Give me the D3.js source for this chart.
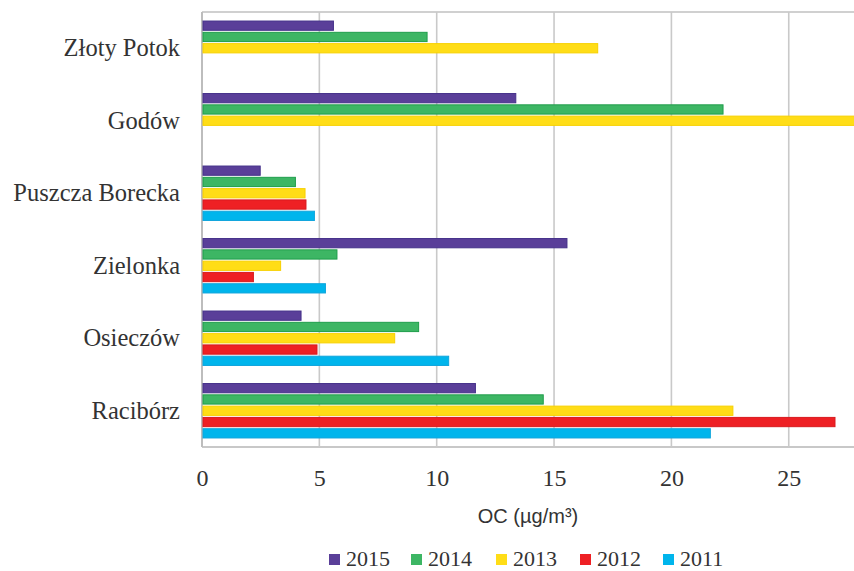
<!DOCTYPE html>
<html>
<head>
<meta charset="utf-8">
<script src="https://cdn.jsdelivr.net/npm/d3@7"></script>
<style>
  html, body { margin: 0; padding: 0; background: #fff; }
  svg { display: block; }
</style>
</head>
<body>
<svg id="chart" width="854" height="571"></svg>
<script>
// ---- data ----
const categories = ["Złoty Potok", "Godów", "Puszcza Borecka", "Zielonka", "Osieczów", "Racibórz"];
const seriesNames = ["2015", "2014", "2013", "2012", "2011"];
const values2015 = [5.6, 13.37, 2.48, 15.55, 4.22, 11.65];
const values2014 = [9.59, 22.2, 3.98, 5.75, 9.23, 14.54];
const values2013 = [16.86, 28.6, 4.39, 3.35, 8.21, 22.62];
const values2012 = [null, null, 4.43, 2.19, 4.9, 26.97];
const values2011 = [null, null, 4.79, 5.26, 10.51, 21.66];
const xTicks = [0, 5, 10, 15, 20, 25];
const seriesColors = ["#5a3f99", "#3db664", "#ffdd17", "#ee2024", "#00b5ec"];
const seriesStrokes = ["#45318a", "#1f9d4b", "#f7d000", "#d81a1e", "#10a5dc"];

const seriesValues = [values2015, values2014, values2013, values2012, values2011];

// ---- layout ----
const svg = d3.select("#chart");
const plotLeft = 202, plotRight = 854, plotTop = 12, plotBottom = 447;

const x = d3.scaleLinear().domain([0, 27.78]).range([plotLeft, plotRight]);
const y = d3.scaleBand().domain(categories).range([plotTop, plotBottom]).paddingInner(0).paddingOuter(0);
const yInner = d3.scaleBand().domain(seriesNames).range([0, y.bandwidth()]).paddingInner(0.18).paddingOuter(0.8);

// frame
svg.append("line").attr("x1", plotLeft).attr("x2", plotRight).attr("y1", plotTop).attr("y2", plotTop)
  .attr("stroke", "#d0d0d0").attr("stroke-width", 2);
svg.append("line").attr("x1", plotLeft).attr("x2", plotRight).attr("y1", plotBottom).attr("y2", plotBottom)
  .attr("stroke", "#c8c8c8").attr("stroke-width", 2);

// gridlines
svg.append("g").selectAll("line").data(xTicks.filter(d => d > 0)).join("line")
  .attr("x1", d => x(d)).attr("x2", d => x(d))
  .attr("y1", plotTop).attr("y2", plotBottom)
  .attr("stroke", "#c9c9c9").attr("stroke-width", 1.6);

// left axis line
svg.append("line").attr("x1", plotLeft).attr("x2", plotLeft).attr("y1", plotTop).attr("y2", plotBottom)
  .attr("stroke", "#bdbdbd").attr("stroke-width", 2);

// bars
svg.append("clipPath").attr("id", "clip").append("rect")
  .attr("x", plotLeft).attr("y", 0).attr("width", plotRight - plotLeft).attr("height", 571);

const barsG = svg.append("g").attr("clip-path", "url(#clip)");
seriesNames.forEach((s, si) => {
  const data = categories.map((c, ci) => ({ c, v: seriesValues[si][ci] })).filter(d => d.v != null);
  barsG.append("g").selectAll("rect").data(data).join("rect")
    .attr("x", x(0) + 1)
    .attr("y", d => y(d.c) + yInner(s))
    .attr("width", d => x(d.v) - x(0) - 1)
    .attr("height", yInner.bandwidth())
    .attr("fill", seriesColors[si])
    .attr("stroke", seriesStrokes[si])
    .attr("stroke-width", 1);
});

// y axis labels
const yAxis = d3.axisLeft(y).tickSize(0).tickPadding(0);
const yG = svg.append("g").attr("transform", `translate(180,0)`).call(yAxis);
yG.select(".domain").remove();
yG.selectAll("text")
  .attr("font-family", "'Liberation Serif', 'Times New Roman', serif")
  .attr("font-size", 24.5).attr("fill", "#333").attr("dy", "0.33em");

// x axis tick labels
const xAxis = d3.axisBottom(x).tickValues(xTicks).tickSize(0).tickPadding(0);
const xG = svg.append("g").attr("transform", `translate(0,472)`).call(xAxis);
xG.select(".domain").remove();
xG.selectAll("text")
  .attr("font-family", "'Liberation Serif', 'Times New Roman', serif")
  .attr("font-size", 24).attr("fill", "#333").attr("dy", "0.6em");

// x axis title
svg.append("text").attr("x", 528).attr("y", 523).attr("text-anchor", "middle")
  .attr("font-family", "'Liberation Sans', Arial, sans-serif")
  .attr("font-size", 20).attr("fill", "#333")
  .text("OC (µg/m³)");

// legend
const legendX = [329, 411, 496, 580, 663];
const lg = svg.append("g");
seriesNames.forEach((s, i) => {
  lg.append("rect").attr("x", legendX[i]).attr("y", 554).attr("width", 11).attr("height", 11)
    .attr("fill", seriesColors[i]);
  lg.append("text").attr("x", legendX[i] + 17).attr("y", 566)
    .attr("font-family", "'Liberation Serif', 'Times New Roman', serif")
    .attr("font-size", 22).attr("fill", "#333").text(s);
});
</script>
</body>
</html>
